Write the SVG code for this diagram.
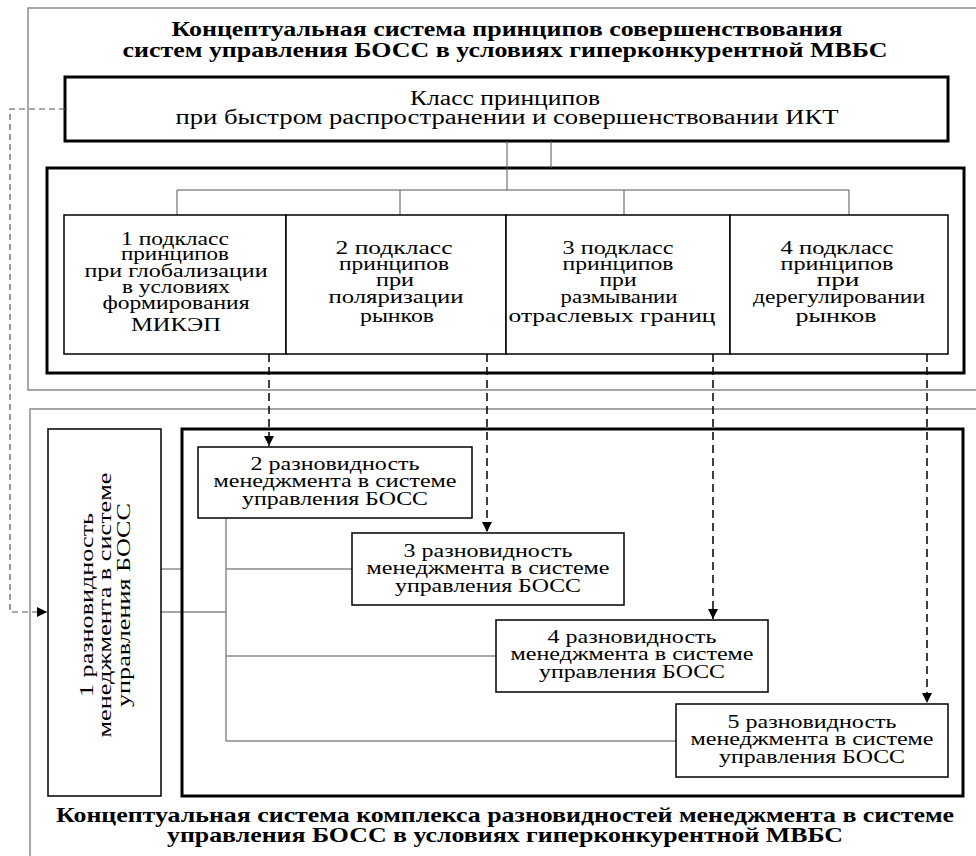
<svg xmlns="http://www.w3.org/2000/svg" width="976" height="856" viewBox="0 0 976 856">
<defs>
<marker id="ah" viewBox="0 0 10 10" refX="10" refY="5" markerWidth="10" markerHeight="10" markerUnits="userSpaceOnUse" orient="auto">
<path d="M0,0 L10,5 L0,10 z" fill="#000"/>
</marker>
<style>
text{font-family:"Liberation Serif","Times New Roman",serif;fill:#000;text-anchor:middle}
.t{font-size:21px;font-weight:bold}
.n{font-size:20px}
.s{font-size:18px}
.frame{fill:none;stroke:#8a8a8a;stroke-width:1.5}
.thick{fill:#fff;stroke:#000;stroke-width:3}
.box{fill:#fff;stroke:#000;stroke-width:1.5}
.tree{fill:none;stroke:#555;stroke-width:1}
.gtree{fill:none;stroke:#8a8a8a;stroke-width:1.5}
.dash{fill:none;stroke:#000;stroke-width:1.5;stroke-dasharray:8,5}
.ldash{fill:none;stroke:#555;stroke-width:1.2;stroke-dasharray:6,4}
</style>
</defs>
<rect width="976" height="856" fill="#fff"/>

<g id="frames">
<rect class="frame" x="28" y="8" width="960" height="382"/>
<path class="frame" d="M30,866 V409 H990"/>
</g>

<g id="title-top">
<text class="t" x="507" y="36" textLength="671" lengthAdjust="spacingAndGlyphs">Концептуальная система принципов совершенствования</text>
<text class="t" x="505" y="57" textLength="765" lengthAdjust="spacingAndGlyphs">систем управления БОСС в условиях гиперконкурентной МВБС</text>
</g>

<g id="class">
<rect class="thick" x="65" y="77" width="883" height="64"/>
<text class="n" x="505" y="105" textLength="190" lengthAdjust="spacingAndGlyphs">Класс принципов</text>
<text class="n" x="507" y="124" textLength="663" lengthAdjust="spacingAndGlyphs">при быстром распространении и совершенствовании ИКТ</text>
</g>

<g id="subclass-frame">
<rect class="thick" x="47" y="168" width="917" height="205"/>
</g>

<g id="connectors">
<path class="tree" d="M507,141 V190 M551,141 V168 M177,190 H849 M177,190 V215 M400,190 V215 M624,190 V215 M849,190 V215"/>
<path class="gtree" d="M226,518 V741 M226,569 H352 M226,656 H496 M226,741 H676 M161,612 H226"/>
<path class="tree" d="M161,569 H182" stroke="#000"/>
<path class="dash" d="M269,354 V446" marker-end="url(#ah)"/>
<path class="dash" d="M487,354 V532" marker-end="url(#ah)"/>
<path class="dash" d="M713,354 V619" marker-end="url(#ah)"/>
<path class="dash" d="M927,354 V703" marker-end="url(#ah)"/>
<path class="ldash" d="M65,109 H10 V612 H47" marker-end="url(#ah)"/>
</g>

<g id="sub1">
<rect class="box" x="64" y="215" width="222" height="139"/>
<text class="s" x="175" y="245" textLength="108" lengthAdjust="spacingAndGlyphs">1 подкласс</text>
<text class="s" x="175" y="260" textLength="108" lengthAdjust="spacingAndGlyphs">принципов</text>
<text class="s" x="176" y="277" textLength="183" lengthAdjust="spacingAndGlyphs">при глобализации</text>
<text class="s" x="176" y="293" textLength="108" lengthAdjust="spacingAndGlyphs">в условиях</text>
<text class="s" x="176" y="309" textLength="147" lengthAdjust="spacingAndGlyphs">формирования</text>
<text class="s" x="176" y="331" textLength="90" lengthAdjust="spacingAndGlyphs">МИКЭП</text>
</g>

<g id="sub2">
<rect class="box" x="286" y="215" width="220" height="139"/>
<text class="s" x="394" y="254" textLength="117" lengthAdjust="spacingAndGlyphs">2 подкласс</text>
<text class="s" x="394" y="270" textLength="110" lengthAdjust="spacingAndGlyphs">принципов</text>
<text class="s" x="395" y="286" textLength="38" lengthAdjust="spacingAndGlyphs">при</text>
<text class="s" x="396" y="303" textLength="135" lengthAdjust="spacingAndGlyphs">поляризации</text>
<text class="s" x="397" y="322" textLength="74" lengthAdjust="spacingAndGlyphs">рынков</text>
</g>

<g id="sub3">
<rect class="box" x="506" y="215" width="224" height="139"/>
<text class="s" x="618" y="254" textLength="111" lengthAdjust="spacingAndGlyphs">3 подкласс</text>
<text class="s" x="618" y="270" textLength="111" lengthAdjust="spacingAndGlyphs">принципов</text>
<text class="s" x="618" y="286" textLength="37" lengthAdjust="spacingAndGlyphs">при</text>
<text class="s" x="619" y="303" textLength="117" lengthAdjust="spacingAndGlyphs">размывании</text>
<text class="s" x="612" y="322" textLength="207" lengthAdjust="spacingAndGlyphs">отраслевых границ</text>
</g>

<g id="sub4">
<rect class="box" x="730" y="215" width="218" height="139"/>
<text class="s" x="837" y="254" textLength="113" lengthAdjust="spacingAndGlyphs">4 подкласс</text>
<text class="s" x="837" y="270" textLength="113" lengthAdjust="spacingAndGlyphs">принципов</text>
<text class="s" x="838" y="286" textLength="43" lengthAdjust="spacingAndGlyphs">при</text>
<text class="s" x="839" y="303" textLength="172" lengthAdjust="spacingAndGlyphs">дерегулировании</text>
<text class="s" x="836" y="322" textLength="81" lengthAdjust="spacingAndGlyphs">рынков</text>
</g>

<g id="var1">
<rect class="box" x="48" y="429" width="113" height="367"/>
<text class="s" transform="translate(93,605) rotate(-90)" x="0" y="0" textLength="184" lengthAdjust="spacingAndGlyphs">1 разновидность</text>
<text class="s" transform="translate(111,605) rotate(-90)" x="0" y="0" textLength="265" lengthAdjust="spacingAndGlyphs">менеджмента в системе</text>
<text class="s" transform="translate(130,605) rotate(-90)" x="0" y="0" textLength="204" lengthAdjust="spacingAndGlyphs">управления БОСС</text>
</g>

<g id="var-frame">
<rect class="thick" x="182" y="429" width="781" height="367" style="fill:none"/>
</g>

<g id="var2">
<rect class="box" x="198" y="447" width="274" height="71"/>
<text class="s" x="335" y="470" textLength="169" lengthAdjust="spacingAndGlyphs">2 разновидность</text>
<text class="s" x="335" y="487" textLength="243" lengthAdjust="spacingAndGlyphs">менеджмента в системе</text>
<text class="s" x="335" y="505" textLength="186" lengthAdjust="spacingAndGlyphs">управления БОСС</text>
</g>

<g id="var3">
<rect class="box" x="352" y="533" width="272" height="72"/>
<text class="s" x="488" y="557" textLength="169" lengthAdjust="spacingAndGlyphs">3 разновидность</text>
<text class="s" x="488" y="574" textLength="243" lengthAdjust="spacingAndGlyphs">менеджмента в системе</text>
<text class="s" x="488" y="592" textLength="186" lengthAdjust="spacingAndGlyphs">управления БОСС</text>
</g>

<g id="var4">
<rect class="box" x="496" y="620" width="272" height="72"/>
<text class="s" x="632" y="643" textLength="169" lengthAdjust="spacingAndGlyphs">4 разновидность</text>
<text class="s" x="632" y="660" textLength="243" lengthAdjust="spacingAndGlyphs">менеджмента в системе</text>
<text class="s" x="632" y="678" textLength="186" lengthAdjust="spacingAndGlyphs">управления БОСС</text>
</g>

<g id="var5">
<rect class="box" x="676" y="704" width="272" height="73"/>
<text class="s" x="812" y="728" textLength="169" lengthAdjust="spacingAndGlyphs">5 разновидность</text>
<text class="s" x="812" y="745" textLength="243" lengthAdjust="spacingAndGlyphs">менеджмента в системе</text>
<text class="s" x="812" y="763" textLength="186" lengthAdjust="spacingAndGlyphs">управления БОСС</text>
</g>

<g id="title-bottom">
<text class="t" x="505" y="822" textLength="898" lengthAdjust="spacingAndGlyphs">Концептуальная система комплекса разновидностей менеджмента в системе</text>
<text class="t" x="505" y="842" textLength="676" lengthAdjust="spacingAndGlyphs">управления БОСС в условиях гиперконкурентной МВБС</text>
</g>
</svg>
